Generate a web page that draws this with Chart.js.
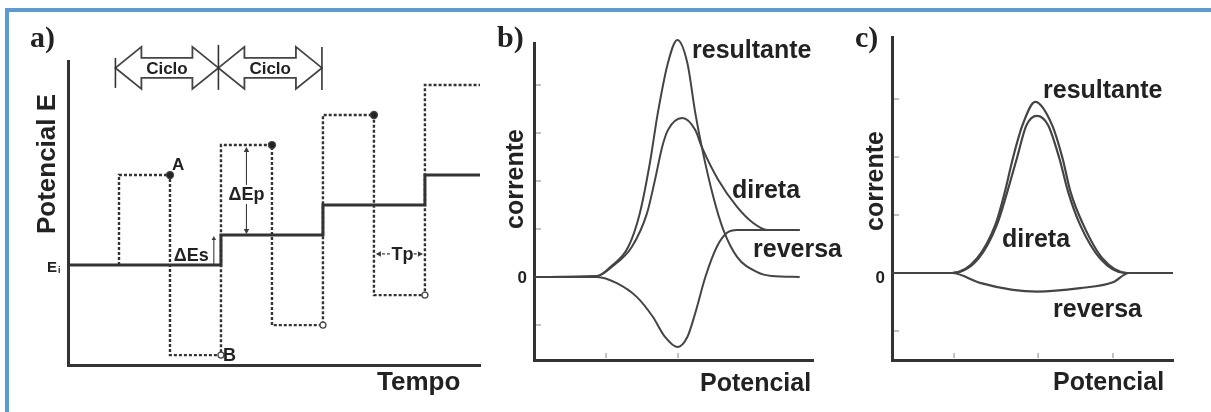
<!DOCTYPE html>
<html><head><meta charset="utf-8">
<script src="https://cdn.jsdelivr.net/npm/chart.js@4.4.1/dist/chart.umd.min.js"></script>
<style>
html,body{margin:0;padding:0;background:#fff;}
#wrap{position:relative;width:1211px;height:412px;overflow:hidden;background:#fff;}
#frame{position:absolute;left:5px;top:8px;width:1230px;height:430px;border-top:4px solid #5b9bd5;border-left:4px solid #5b9bd5;box-sizing:border-box;}
canvas{position:absolute;left:0;top:0;}
</style></head><body>
<div id="wrap"><div id="frame"></div>
<canvas id="ca" width="1211" height="412"></canvas>
<canvas id="cb" width="1211" height="412"></canvas>
<canvas id="cc" width="1211" height="412"></canvas>
</div>
<script>
// ---------- Panel a: potential waveform ----------
const stairT = [0, 3, 5, 7, 8.08];
const stairE = [0, 1, 2, 3, 3];
const pulseT = [1, 2, 3, 4, 5, 6, 7, 8.08];
const pulseE = [0, 3, -3, 4, -2, 5, -1, 6];
const cycleT = [0.93, 2.95, 4.98];

// ---------- Panel b: currents ----------
const potB_res = [0, 0.875, 1.06, 1.31, 1.47, 1.61, 1.72, 1.86, 1.99, 2.13, 2.24, 2.33, 2.49, 2.63, 2.82, 3.10, 3.30, 3.69];
const curB_res = [0, 0.02, 0.21, 0.63, 1.33, 2.38, 3.42, 4.46, 4.94, 4.46, 3.42, 2.71, 1.67, 0.98, 0.42, 0.10, 0.02, 0];
const potB_dir = [0, 0.875, 1.08, 1.36, 1.57, 1.68, 1.78, 1.86, 2.06, 2.24, 2.33, 2.56, 2.82, 3.04, 3.24, 3.69];
const curB_dir = [0, 0.02, 0.21, 0.63, 1.33, 2.02, 2.71, 3.06, 3.31, 3.06, 2.71, 2.02, 1.46, 1.13, 0.98, 0.98];
const potB_rev = [0, 0.875, 1.15, 1.43, 1.65, 1.82, 1.99, 2.13, 2.24, 2.38, 2.54, 2.68, 2.82, 3.69];
const curB_rev = [0, 0, -0.13, -0.42, -0.83, -1.25, -1.46, -1.25, -0.75, 0, 0.63, 0.92, 0.98, 0.98];
const ticksBX = [1, 2];
const ticksBY = [-1, 1, 2, 3, 4];

// ---------- Panel c: currents ----------
const potC_res = [0, 0.75, 1.06, 1.29, 1.41, 1.51, 1.63, 1.79, 2.00, 2.13, 2.23, 2.39, 2.63, 2.94, 3.51];
const curC_res = [0, 0, 0.25, 0.83, 1.40, 1.98, 2.55, 2.95, 2.55, 1.98, 1.40, 0.83, 0.25, 0, 0];
const potC_dir = [0, 0.75, 1.08, 1.31, 1.44, 1.56, 1.68, 1.81, 1.95, 2.09, 2.20, 2.35, 2.60, 2.91, 3.51];
const curC_dir = [0, 0, 0.25, 0.83, 1.40, 1.98, 2.55, 2.71, 2.55, 1.98, 1.40, 0.83, 0.25, 0, 0];
const potC_rev = [0, 0.75, 1.10, 1.51, 1.81, 2.35, 2.76, 2.96, 3.51];
const curC_rev = [0, 0, -0.17, -0.29, -0.32, -0.26, -0.16, 0, 0];
const ticksCX = [0.775, 1.825, 2.76];
const ticksCY = [-1, 1, 2, 3];

const INK = '#222';
const LINE = '#3a3a3a';
const SANS = '"Liberation Sans", Arial, sans-serif';
const SERIF = '"Liberation Serif", "Times New Roman", serif';

function pts(xs, ys){ return xs.map((x,i)=>({x:x, y:ys[i]})); }

function baseOpts(pad, xr, yr){
  return {
    responsive:false, animation:false, events:[],
    layout:{padding:pad},
    plugins:{legend:{display:false}, tooltip:{enabled:false}},
    scales:{
      x:{type:'linear', min:xr[0], max:xr[1], afterFit:s=>{s.height=0;},
         ticks:{display:false}, grid:{display:false, drawTicks:false},
         border:{display:true, color:'#333', width:3}},
      y:{type:'linear', min:yr[0], max:yr[1], afterFit:s=>{s.width=0;},
         ticks:{display:false}, grid:{display:false, drawTicks:false},
         border:{display:true, color:'#333', width:3}}
    }
  };
}

function text(ctx, s, x, y, size, align, font){
  ctx.save();
  ctx.font = 'bold ' + size + 'px ' + (font || SANS);
  ctx.fillStyle = INK;
  ctx.textAlign = align || 'left';
  ctx.textBaseline = 'alphabetic';
  ctx.fillText(s, x, y);
  ctx.restore();
}
function vtext(ctx, s, x, y, size){
  ctx.save();
  ctx.translate(x, y);
  ctx.rotate(-Math.PI/2);
  ctx.font = 'bold ' + size + 'px ' + SANS;
  ctx.fillStyle = INK;
  ctx.textAlign = 'center';
  ctx.textBaseline = 'alphabetic';
  ctx.fillText(s, 0, 0);
  ctx.restore();
}
function head(ctx, x, y, dir, s){
  ctx.beginPath();
  if(dir==='up'){ctx.moveTo(x,y);ctx.lineTo(x-s*0.55,y+s);ctx.lineTo(x+s*0.55,y+s);}
  if(dir==='down'){ctx.moveTo(x,y);ctx.lineTo(x-s*0.55,y-s);ctx.lineTo(x+s*0.55,y-s);}
  if(dir==='left'){ctx.moveTo(x,y);ctx.lineTo(x+s,y-s*0.55);ctx.lineTo(x+s,y+s*0.55);}
  if(dir==='right'){ctx.moveTo(x,y);ctx.lineTo(x-s,y-s*0.55);ctx.lineTo(x-s,y+s*0.55);}
  ctx.closePath(); ctx.fill();
}
function seg(ctx, x1, y1, x2, y2, w, col, dash){
  ctx.save();
  ctx.beginPath(); ctx.lineWidth = w; ctx.strokeStyle = col || LINE;
  if(dash) ctx.setLineDash(dash);
  ctx.moveTo(x1,y1); ctx.lineTo(x2,y2); ctx.stroke();
  ctx.restore();
}
function cicloArrow(ctx, x1, x2, yc){
  const hl=26, hh=21, sh=10;
  ctx.save();
  ctx.beginPath();
  ctx.moveTo(x1, yc);
  ctx.lineTo(x1+hl, yc-hh); ctx.lineTo(x1+hl, yc-sh); ctx.lineTo(x2-hl, yc-sh); ctx.lineTo(x2-hl, yc-hh);
  ctx.lineTo(x2, yc); ctx.lineTo(x2-hl, yc+hh); ctx.lineTo(x2-hl, yc+sh); ctx.lineTo(x1+hl, yc+sh); ctx.lineTo(x1+hl, yc+hh);
  ctx.closePath();
  ctx.fillStyle = '#fff'; ctx.fill();
  ctx.lineWidth = 1.8; ctx.strokeStyle = '#444'; ctx.lineJoin='miter'; ctx.stroke();
  ctx.restore();
  text(ctx, 'Ciclo', (x1+x2)/2, yc+6, 17, 'center');
}
function tickMarks(chart, xs, ys){
  const ctx = chart.ctx, a = chart.chartArea, X = chart.scales.x, Y = chart.scales.y;
  xs.forEach(v=>{ const px = X.getPixelForValue(v); seg(ctx, px, a.bottom-2, px, a.bottom-7, 1.2, '#999'); });
  ys.forEach(v=>{ const py = Y.getPixelForValue(v); seg(ctx, a.left+2, py, a.left+7, py, 1.2, '#999'); });
}

// ---------- annotations ----------
const annotA = {
  id:'annotA',
  afterDraw(chart){
    const ctx = chart.ctx, X = v=>chart.scales.x.getPixelForValue(v), Y = v=>chart.scales.y.getPixelForValue(v);
    text(ctx, 'a)', 30, 47, 30, 'left', SERIF);
    vtext(ctx, 'Potencial E', 55, 164, 26);
    text(ctx, 'Tempo', 377, 390, 26);
    text(ctx, 'E', X(0)-21, Y(0)+7, 15);
    text(ctx, 'i', X(0)-10, Y(0)+8, 9);
    text(ctx, 'A', X(2)+2, Y(3)-5, 17);
    text(ctx, 'B', X(3)+2, Y(-3)+6, 18);
    // Delta Ep
    ctx.fillStyle = LINE;
    seg(ctx, X(3.5), Y(4)+3, X(3.5), Y(1)-2, 1.1);
    head(ctx, X(3.5), Y(4)+2, 'up', 5);
    head(ctx, X(3.5), Y(1)-1, 'down', 5);
    ctx.save(); ctx.fillStyle='#fff'; ctx.fillRect(X(3.5)-19, Y(2.17)-15, 38, 19); ctx.restore();
    text(ctx, '\u0394Ep', X(3.5), Y(2.17), 18, 'center');
    // Delta Es
    ctx.fillStyle = LINE;
    seg(ctx, X(2.86), Y(1)+3, X(2.86), Y(0)-1, 1.1);
    head(ctx, X(2.86), Y(1)+1, 'up', 4);
    text(ctx, '\u0394Es', X(2.76), Y(0.13), 18, 'right');
    // Tp
    ctx.fillStyle = LINE;
    seg(ctx, X(6)+3, Y(0.37), X(6.33), Y(0.37), 1.3, LINE, [3,2]);
    seg(ctx, X(6.78), Y(0.37), X(7)-3, Y(0.37), 1.3, LINE, [3,2]);
    head(ctx, X(6)+2, Y(0.37), 'left', 5);
    head(ctx, X(7)-2, Y(0.37), 'right', 5);
    text(ctx, 'Tp', X(6.56), Y(0.17), 18, 'center');
    // Ciclo arrows
    const yc = Y(6.57);
    cicloArrow(ctx, X(cycleT[0]), X(cycleT[1]), yc);
    cicloArrow(ctx, X(cycleT[1]), X(cycleT[2]), yc);
    seg(ctx, X(cycleT[0]), yc-10, X(cycleT[0]), yc+20, 1.6, '#333');
    seg(ctx, X(cycleT[1]), yc-23, X(cycleT[1]), yc+22, 1.6, '#333');
    seg(ctx, X(cycleT[2]), yc-21, X(cycleT[2]), yc+22, 1.6, '#333');
  }
};
const annotB = {
  id:'annotB',
  afterDraw(chart){
    const ctx = chart.ctx;
    tickMarks(chart, ticksBX, ticksBY);
    text(ctx, 'b)', 497, 47, 30, 'left', SERIF);
    vtext(ctx, 'corrente', 523, 179, 25);
    text(ctx, 'Potencial', 700, 391, 25);
    text(ctx, '0', 527, 283, 17, 'right');
    text(ctx, 'resultante', 692, 58, 25);
    text(ctx, 'direta', 732, 198, 25);
    text(ctx, 'reversa', 753, 257, 25);
  }
};
const annotC = {
  id:'annotC',
  afterDraw(chart){
    const ctx = chart.ctx;
    tickMarks(chart, ticksCX, ticksCY);
    text(ctx, 'c)', 855, 47, 30, 'left', SERIF);
    vtext(ctx, 'corrente', 883, 181, 25);
    text(ctx, 'Potencial', 1053, 390, 25);
    text(ctx, '0', 885, 283, 17, 'right');
    text(ctx, 'resultante', 1043, 98, 25);
    text(ctx, 'direta', 1002, 247, 25);
    text(ctx, 'reversa', 1053, 317, 25);
  }
};

function curve(xs, ys, w){
  return {data: pts(xs, ys), borderColor:'#444', borderWidth:w, pointRadius:0,
          cubicInterpolationMode:'monotone', fill:false, clip:false};
}

// Panel a
new Chart(document.getElementById('ca'), {
  type:'line',
  data:{datasets:[
    {data: pts(stairT, stairE), stepped:'before', borderColor:'#333', borderWidth:3, pointRadius:0, fill:false, clip:false},
    {data: pts(pulseT, pulseE), stepped:'after', borderColor:'#333', borderWidth:2.4, borderDash:[3,2],
     pointRadius:[0,3.5,3,3.5,3,3.5,3,0], pointHoverRadius:0,
     pointBackgroundColor:['#fff','#222','#fff','#222','#fff','#222','#fff','#fff'],
     pointBorderColor:'#444', pointBorderWidth:1.3, fill:false, clip:false}
  ]},
  options: baseOpts({left:68, top:61, right:1211-480, bottom:412-365}, [0, 8.08], [-3.33, 6.8]),
  plugins:[annotA]
});

// Panel b
new Chart(document.getElementById('cb'), {
  type:'line',
  data:{datasets:[
    curve(potB_res, curB_res, 2),
    curve(potB_dir, curB_dir, 2),
    curve(potB_rev, curB_rev, 2)
  ]},
  options: baseOpts({left:534, top:43, right:1211-813, bottom:412-360}, [0, 3.875], [-1.73, 4.875]),
  plugins:[annotB]
});

// Panel c
new Chart(document.getElementById('cc'), {
  type:'line',
  data:{datasets:[
    curve(potC_res, curC_res, 2.2),
    curve(potC_dir, curC_dir, 2.2),
    curve(potC_rev, curC_rev, 2.2)
  ]},
  options: baseOpts({left:892, top:37, right:1211-1173, bottom:412-360}, [0, 3.51], [-1.5, 4.07]),
  plugins:[annotC]
});
</script>
</body></html>
